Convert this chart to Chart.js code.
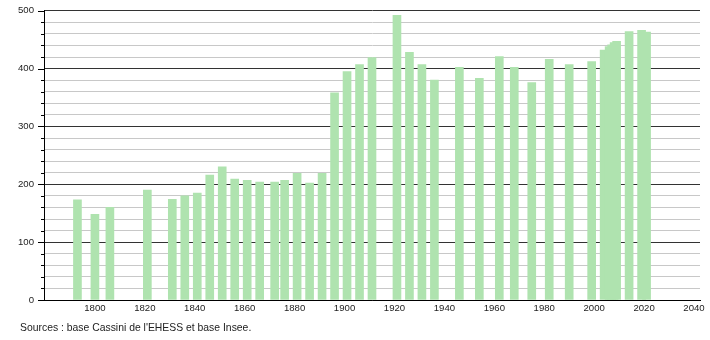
<!DOCTYPE html>
<html>
<head>
<meta charset="utf-8">
<script src="https://cdn.jsdelivr.net/npm/chart.js@4/dist/chart.umd.min.js"></script>
<style>
  body { margin: 0; background: #fff; }
  #wrap { position: relative; width: 710px; height: 340px; overflow: hidden; }
  #chart { position: absolute; left: 0; top: -5px; }
  #source {
    position: absolute; left: 20px; top: 322px;
    font: 10.4px "Liberation Sans", Arial, sans-serif; color: #222;
  }
</style>
</head>
<body>
<div id="wrap">
  <canvas id="chart" width="710" height="345"></canvas>
  <div id="source">Sources : base Cassini de l'EHESS et base Insee.</div>
</div>
<script>
// census years and population
const years = [1793, 1800, 1806, 1821, 1831, 1836, 1841, 1846, 1851, 1856,
  1861, 1866, 1872, 1876, 1881, 1886, 1891, 1896, 1901, 1906, 1911,
  1921, 1926, 1931, 1936, 1946, 1954, 1962, 1968, 1975, 1982, 1990, 1999,
  2004, 2006, 2007, 2008, 2009, 2014, 2019, 2021];
const population = [173, 148, 160, 190, 174, 180, 185, 216, 230, 209,
  207, 204, 204, 207, 219, 202, 219, 358, 395, 407, 419,
  492, 428, 407, 380, 402, 383, 421, 402, 376, 416, 407, 412,
  432, 438, 441, 445, 447, 464, 466, 463];
const yLabels = [0, 100, 200, 300, 400, 500];
const xLabels = [1800, 1820, 1840, 1860, 1880, 1900, 1920, 1940, 1960, 1980, 2000, 2020, 2040];

const font = { family: "'Liberation Sans', Arial, sans-serif", size: 9.6 };

// short tick marks on the left of the y axis, longer on the hundreds
const yTickMarks = {
  id: "yTickMarks",
  afterDraw(chart) {
    const y = chart.scales.y;
    const ctx = chart.ctx;
    ctx.save();
    ctx.strokeStyle = "#000";
    ctx.lineWidth = 1;
    y.ticks.forEach(t => {
      const py = Math.round(y.getPixelForValue(t.value)) + 0.5;
      const len = t.value % 100 === 0 ? 6 : 3;
      ctx.beginPath();
      ctx.moveTo(y.right - len, py);
      ctx.lineTo(y.right, py);
      ctx.stroke();
    });
    ctx.restore();
  }
};

new Chart(document.getElementById("chart"), {
  type: "bar",
  data: {
    datasets: [{
      data: years.map((yr, i) => ({ x: yr, y: population[i] })),
      backgroundColor: "#afe3af",
      barThickness: 8,
      borderWidth: 0
    }]
  },
  options: {
    responsive: false,
    animation: false,
    layout: { padding: { top: 0, right: 10, bottom: 20, left: 0 } },
    plugins: { legend: { display: false }, tooltip: { enabled: false } },
    scales: {
      x: {
        type: "linear",
        offset: false,
        min: 1779.6,
        max: 2042.4,
        afterFit: s => { s.height = 20; },
        afterBuildTicks: s => { s.ticks = xLabels.map(v => ({ value: v })); },
        ticks: { font, color: "#222", padding: 3, autoSkip: false, maxRotation: 0,
                 callback: v => String(v) },
        grid: { display: false, drawTicks: false },
        border: { color: "#000", width: 1 }
      },
      y: {
        min: 0,
        max: 500,
        afterFit: s => { s.width = 44; },
        afterBuildTicks: s => {
          const t = [];
          for (let v = 0; v <= 500; v += 20) t.push({ value: v });
          s.ticks = t;
        },
        ticks: { font, color: "#222", padding: 10, autoSkip: false,
                 callback: v => yLabels.includes(v) ? String(v) : "" },
        grid: {
          drawTicks: false,
          color: c => c.tick && c.tick.value % 100 === 0 ? "#333" : "#c8c8c8"
        },
        border: { color: "#000", width: 1 }
      }
    }
  },
  plugins: [yTickMarks]
});
</script>
</body>
</html>
